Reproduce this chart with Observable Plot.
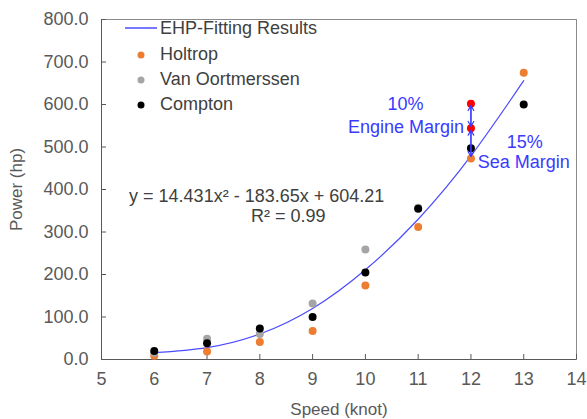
<!DOCTYPE html>
<html><head><meta charset="utf-8">
<script src="https://cdn.jsdelivr.net/npm/d3@7"></script>
<script src="https://cdn.jsdelivr.net/npm/@observablehq/plot@0.6"></script>
<style>
body{margin:0;background:#fff;}
#wrap{position:relative;width:587px;height:419px;font-family:"Liberation Sans",Arial,sans-serif;}
#legend{position:absolute;left:0;top:0;width:587px;height:120px;pointer-events:none;}
</style></head><body><div id="wrap"></div>
<script>
// Data
const speeds = [6, 7, 8, 9, 10, 11, 12, 13];
const holtrop = [9, 19, 41, 67, 174, 312, 473, 675];
const vanOortmerssen = [16, 49, 60, 132, 259, 357, null, null];
const compton = [20, 38, 73, 100, 205, 355, 497, 600];
const fitted = [16, 28, 60, 120, 211, 330, 479, 656]; // EHP fitting curve read at each speed
const marginSpeed = 12;
const marginLevels = [473, 544, 602]; // base, +15% sea margin, +10% engine margin
const xTicks = [5, 6, 7, 8, 9, 10, 11, 12, 13, 14];
const yTicks = [0, 100, 200, 300, 400, 500, 600, 700, 800];
const seriesNames = ["EHP-Fitting Results", "Holtrop", "Van Oortmerssen", "Compton"];
const seriesColors = ["#4b4bff", "#ed7d31", "#a5a5a5", "#000000"];
const annotations = [
  {x: 10.76, y: 600, text: "10%"},
  {x: 10.77, y: 546, text: "Engine Margin"},
  {x: 13.02, y: 512, text: "15%"},
  {x: 13.0, y: 465, text: "Sea Margin"}
];
const equations = [
  {x: 7.94, y: 384, text: "y = 14.431x² - 183.65x + 604.21"},
  {x: 8.54, y: 338, text: "R² = 0.99"}
];

const toRows = vals => speeds.map((s, i) => ({x: s, y: vals[i]})).filter(d => d.y != null);
const fitRows = toRows(fitted);
const blue = "#3a3aff";
const arrowRows = [
  {y1: marginLevels[0], y2: marginLevels[1]},
  {y1: marginLevels[1], y2: marginLevels[2]}
];

const chart = Plot.plot({
  width: 587, height: 419,
  marginLeft: 101, marginRight: 11, marginTop: 19, marginBottom: 60,
  style: {fontFamily: '"Liberation Sans", Arial, sans-serif', fontSize: "18px", background: "#fff", color: "#595959", overflow: "visible"},
  x: {domain: [5, 14]},
  y: {domain: [0, 800]},
  marks: [
    Plot.frame({stroke: "#8a8a8a"}),
    Plot.axisX(xTicks, {tickSize: -5, tickPadding: 18, label: "Speed (knot)", labelAnchor: "center", labelOffset: 55, labelArrow: "none", color: "#595959", fontSize: 17}),
    Plot.axisY(yTicks, {tickSize: -5, tickPadding: 18, tickFormat: d => d.toFixed(1), label: "Power (hp)", labelAnchor: "center", labelOffset: 92, labelArrow: "none", color: "#595959", fontSize: 17}),
    Plot.axisX(xTicks, {tickSize: 0, tickPadding: 13, label: null, color: "#595959", fontSize: 18}),
    Plot.axisY(yTicks, {tickSize: 0, tickPadding: 13, tickFormat: d => d.toFixed(1), label: null, color: "#595959", fontSize: 18}),
    Plot.ruleX([5], {stroke: "#595959"}),
    Plot.ruleY([0], {stroke: "#595959"}),
    Plot.line(fitRows, {x: "x", y: "y", stroke: seriesColors[0], strokeWidth: 1.2, curve: "natural"}),
    Plot.dot(toRows(holtrop), {x: "x", y: "y", r: 4, fill: seriesColors[1]}),
    Plot.dot(toRows(vanOortmerssen), {x: "x", y: "y", r: 4, fill: seriesColors[2]}),
    Plot.dot(toRows(compton), {x: "x", y: "y", r: 4, fill: seriesColors[3]}),
    Plot.dot(marginLevels.slice(1), {x: () => marginSpeed, y: d => d, r: 4, fill: "#ff0000"}),
    Plot.arrow(arrowRows, {x1: () => marginSpeed, x2: () => marginSpeed, y1: "y1", y2: "y2", stroke: blue, strokeWidth: 1.2, headLength: 7, insetStart: 2, insetEnd: 2}),
    Plot.arrow(arrowRows, {x1: () => marginSpeed, x2: () => marginSpeed, y1: "y2", y2: "y1", stroke: blue, strokeWidth: 1.2, headLength: 7, insetStart: 2, insetEnd: 2}),
    Plot.text(annotations, {x: "x", y: "y", text: "text", fill: blue, fontSize: 18}),
    Plot.text(equations, {x: "x", y: "y", text: "text", fill: "#404040", fontSize: 18})
  ]
});
// hide the tick-label text of the first axes (they only supply ticks + titles)
const wrap = document.getElementById("wrap");
wrap.appendChild(chart);
chart.querySelectorAll('g[aria-label="x-axis tick label"], g[aria-label="y-axis tick label"]').forEach((g, i) => { if (i < 2) g.remove(); });

// Legend overlay (inside plot area, top-left)
const ns = "http://www.w3.org/2000/svg";
const leg = document.createElementNS(ns, "svg");
leg.setAttribute("id", "legend");
leg.setAttribute("width", 587); leg.setAttribute("height", 120);
const rowY = [28, 54, 79, 104];
seriesNames.forEach((name, i) => {
  if (i === 0) {
    const l = document.createElementNS(ns, "line");
    l.setAttribute("x1", 125); l.setAttribute("x2", 157);
    l.setAttribute("y1", rowY[i]); l.setAttribute("y2", rowY[i]);
    l.setAttribute("stroke", seriesColors[i]); l.setAttribute("stroke-width", 1.5);
    leg.appendChild(l);
  } else {
    const c = document.createElementNS(ns, "circle");
    c.setAttribute("cx", 141); c.setAttribute("cy", rowY[i] + 1); c.setAttribute("r", 3.5);
    c.setAttribute("fill", seriesColors[i]);
    leg.appendChild(c);
  }
  const t = document.createElementNS(ns, "text");
  t.setAttribute("x", 160); t.setAttribute("y", rowY[i]);
  t.setAttribute("dy", "0.35em");
  t.setAttribute("fill", "#404040");
  t.setAttribute("font-size", "18px");
  t.setAttribute("font-family", '"Liberation Sans", Arial, sans-serif');
  t.textContent = name;
  leg.appendChild(t);
});
wrap.appendChild(leg);
</script></body></html>
